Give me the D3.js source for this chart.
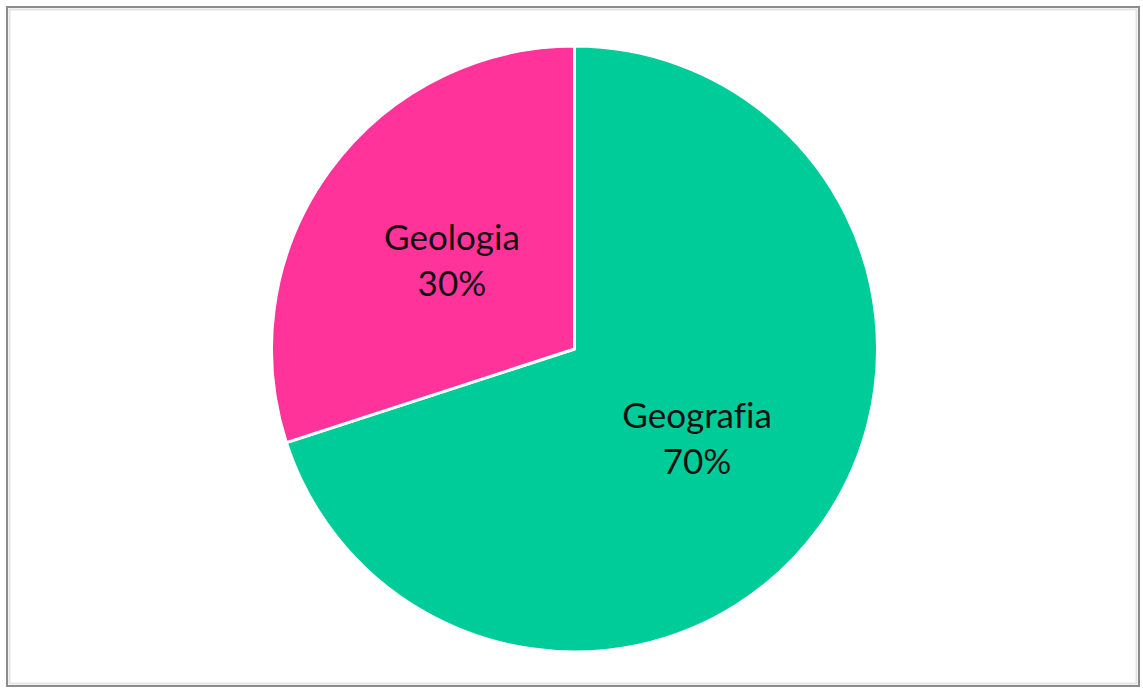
<!DOCTYPE html>
<html>
<head>
<meta charset="utf-8">
<script src="https://cdn.jsdelivr.net/npm/d3@7"></script>
<style>
	body { margin: 0; background: #fff; }
	.slice-label { font-family: Lato, "Open Sans", sans-serif; font-size: 35px; fill: #111; font-variant-ligatures: none; }
</style>
</head>
<body>
<div id="chart"></div>
<script>
const categories = ["Geografia", "Geologia"];
const values = [70, 30];
const percentLabels = ["70%", "30%"];
const colours = ["#00CC99", "#FF3399"];

const width = 1143;
const height = 689;
const cx = 574.5;
const cy = 349;
const radius = 303;

const svg = d3.select("#chart")
	.append("svg")
	.attr("width", width)
	.attr("height", height);

// Frame around the chart
svg.append("rect")
	.attr("x", 7)
	.attr("y", 7)
	.attr("width", 1132)
	.attr("height", 679)
	.attr("fill", "#fff")
	.attr("stroke", "#8c8c8c")
	.attr("stroke-width", 2);
svg.append("rect")
	.attr("x", 9.5)
	.attr("y", 9.5)
	.attr("width", 1127)
	.attr("height", 674)
	.attr("fill", "none")
	.attr("stroke", "#e4e4e4")
	.attr("stroke-width", 2);

const data = categories.map((c, i) => ({name: c, value: values[i], label: percentLabels[i]}));

const pie = d3.pie().sort(null).value((d) => d.value);
const arc = d3.arc().innerRadius(0).outerRadius(radius);

const g = svg.append("g").attr("transform", `translate(${cx},${cy})`);

const slices = g.selectAll(".slice")
	.data(pie(data))
	.enter()
	.append("g")
	.attr("class", "slice");

slices.append("path")
	.attr("d", arc)
	.attr("fill", (d, i) => colours[i])
	.attr("stroke", "#fff")
	.attr("stroke-width", 3)
	.attr("stroke-linejoin", "round");

const labels = slices.append("text")
	.attr("class", "slice-label")
	.attr("text-anchor", "middle")
	.attr("transform", (d) => "translate(" + arc.centroid(d) + ")");

labels.append("tspan")
	.attr("x", 0)
	.attr("dy", "-0.28em")
	.text((d) => d.data.name);

labels.append("tspan")
	.attr("x", 0)
	.attr("dy", "1.32em")
	.text((d) => d.data.label);
</script>
</body>
</html>
